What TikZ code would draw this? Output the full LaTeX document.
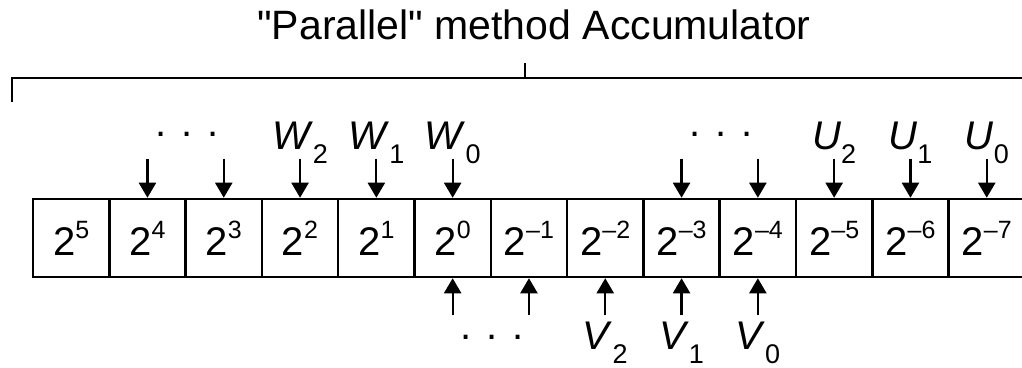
\documentclass[tikz,border=0pt]{standalone}
\usepackage{fontspec}
\setmainfont{Liberation Sans}[Ligatures=TeXOff]
\usetikzlibrary{arrows.meta,positioning,calc}

\newcommand{\pw}[1]{2\raisebox{17pt}{\fontsize{25}{25}\selectfont #1}}
\newcommand{\inp}[2]{\textit{#1}\raisebox{-14pt}{\fontsize{27}{27}\selectfont #2}}

\begin{document}
\begin{tikzpicture}[x=1pt,y=1pt,>={Triangle[width=17pt,length=15pt]}]
  \tikzstyle{cell}=[draw,line width=2.5pt,minimum width=76.3pt,minimum height=78pt,inner sep=0pt,font=\fontsize{40}{40}\selectfont]
  \tikzstyle{lab}=[inner sep=0pt,anchor=base,font=\fontsize{40}{40}\selectfont]
  \tikzstyle{feed}=[line width=2.2pt,->]
  \useasboundingbox (0,0) rectangle (1022,367);
  \clip (0,0) rectangle (1022,367);
  % accumulator bits
  \foreach \e [count=\i from 0] in {5,4,3,2,1,0,–1,–2,–3,–4,–5,–6,–7}
    \node[cell] (c\i) at (71.15+76.3*\i,129) {\pw{\e}};
  % title and bracket
  \node[lab,font=\fontsize{41}{41}\selectfont] (title) at (534,327) {"Parallel" method Accumulator};
  \coordinate (bl) at (12,265);
  \coordinate (bt) at (12,289);
  \coordinate (br) at (1040,289);
  \coordinate (tk) at (525,289);
  \coordinate (tt) at (525,304);
  \draw[line width=1.5pt] (bl) -- (bt) -- (br);
  \draw[line width=1.5pt] (tk) -- (tt);
  % inputs from above
  \foreach \i in {1,2,3,4,5,8,9,10,11,12}
    \draw[feed] ($(c\i.north)+(0,39)$) -- (c\i.north);
  \node[lab] (dw) at ($(c1.north east)+(0,61)$) {. . .};
  \node[lab] (w2) at ($(c3.north)+(0,48)$) {\inp{W}{2}};
  \node[lab] (w1) at ($(c4.north)+(0,48)$) {\inp{W}{1}};
  \node[lab] (w0) at ($(c5.north)+(0,48)$) {\inp{W}{0}};
  \node[lab] (du) at ($(c8.north east)+(0,61)$) {. . .};
  \node[lab] (u2) at ($(c10.north)+(0,48)$) {\inp{U}{2}};
  \node[lab] (u1) at ($(c11.north)+(0,48)$) {\inp{U}{1}};
  \node[lab] (u0) at ($(c12.north)+(0,48)$) {\inp{U}{0}};
  % inputs from below
  \foreach \i in {5,...,9}
    \draw[feed] ($(c\i.south)+(0,-37)$) -- (c\i.south);
  \node[lab] (dv) at ($(c5.south east)+(0,-61)$) {. . .};
  \node[lab] (v2) at ($(c7.south)+(0,-71)$) {\inp{V}{2}};
  \node[lab] (v1) at ($(c8.south)+(0,-71)$) {\inp{V}{1}};
  \node[lab] (v0) at ($(c9.south)+(0,-71)$) {\inp{V}{0}};
\end{tikzpicture}
\end{document}
